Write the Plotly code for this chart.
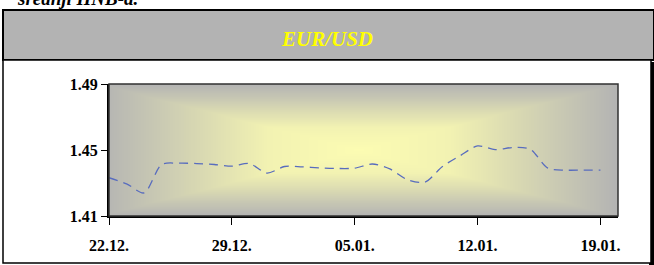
import numpy as np
import pandas as pd
import plotly.graph_objects as go

# ---- data ----
dates = pd.date_range("2009-12-22", "2010-01-19", freq="D")
eur_usd = [1.4332, 1.4295, 1.4240, 1.4412, 1.4420, 1.4418, 1.4412, 1.4402,
           1.4418, 1.4360, 1.4400, 1.4398, 1.4392, 1.4388, 1.4390, 1.4415,
           1.4385, 1.4320, 1.4305, 1.4400, 1.4465, 1.4525, 1.4502, 1.4515,
           1.4505, 1.4390, 1.4378, 1.4378, 1.4378]
tick_dates = ["2009-12-22", "2009-12-29", "2010-01-05", "2010-01-12", "2010-01-19"]
tick_text = ["22.12.", "29.12.", "05.01.", "12.01.", "19.01."]
y_ticks = [1.41, 1.45, 1.49]
y_text = ["1.41", "1.45", "1.49"]
title_text = "EUR/USD"
header_text = "srednji HNB-a."

# ---- layout geometry (pixels) ----
W, H = 654, 265
L, R, T, B = 109, 618, 84, 216
def px(x):
    return (x - L) / (R - L)
def py(y):
    return (B - y) / (B - T)

# ---- background gradient (decoration) ----
n = 201
g = np.linspace(0, 1, n)
U, V = np.meshgrid(g, g)
z = np.maximum(np.abs(U - 0.49) / 0.51, np.abs(V - 0.5) / 0.5)

fig = go.Figure()
fig.add_trace(go.Heatmap(
    x=g, y=g, z=z, zsmooth="best", showscale=False, hoverinfo="skip",
    colorscale=[[0, "rgb(252,252,178)"], [0.35, "rgb(242,242,178)"],
                [1, "rgb(179,179,179)"]],
    zmin=0, zmax=1, xaxis="x", yaxis="y"))

fig.add_trace(go.Scatter(
    x=dates, y=eur_usd, mode="lines", xaxis="x2", yaxis="y2",
    line=dict(color="rgb(88,108,190)", width=1.3, dash="9px,6px",
              shape="spline", smoothing=0.8),
    showlegend=False))

font_tick = dict(family="Liberation Serif", size=16, color="black")

fig.update_layout(
    width=W, height=H,
    margin=dict(l=L, r=W - R, t=T, b=H - B),
    paper_bgcolor="white", plot_bgcolor="rgb(179,179,179)",
    showlegend=False,
    xaxis=dict(range=[0, 1], visible=False, fixedrange=True),
    yaxis=dict(range=[0, 1], visible=False, fixedrange=True),
    xaxis2=dict(overlaying="x", anchor="y2", side="bottom", type="date",
                range=["2009-12-22", "2010-01-20"],
                tickvals=tick_dates, ticktext=tick_text,
                ticks="outside", ticklen=7, tickwidth=1, tickcolor="black",
                showline=True, linecolor="black", linewidth=2,
                showgrid=False, zeroline=False,
                tickfont=dict(font_tick, weight="bold"),
                ticklabelstandoff=7),
    yaxis2=dict(overlaying="y", anchor="x2", side="left",
                range=[1.41, 1.49], tickvals=y_ticks, ticktext=y_text,
                ticks="outside", ticklen=6, tickwidth=1, tickcolor="black",
                showline=True, linecolor="black", linewidth=2,
                showgrid=False, zeroline=False,
                tickfont=dict(font_tick, weight="bold"),
                ticklabelstandoff=0),
)

shapes = [
    # header band
    dict(type="rect", xref="paper", yref="paper", layer="below",
         x0=px(3), x1=px(654), y0=py(60), y1=py(10),
         fillcolor="rgb(179,179,179)", line=dict(color="black", width=2)),
    # shadow
    dict(type="rect", xref="paper", yref="paper", layer="below",
         x0=px(649), x1=px(655), y0=py(266), y1=py(62),
         fillcolor="black", line=dict(width=0)),
    # white chart box
    dict(type="rect", xref="paper", yref="paper", layer="below",
         x0=px(3), x1=px(651), y0=py(263), y1=py(60),
         fillcolor="white", line=dict(color="black", width=1.5)),
    # plot frame top/right
    dict(type="rect", xref="paper", yref="paper", layer="above",
         x0=0, x1=1, y0=0, y1=1,
         fillcolor="rgba(0,0,0,0)", line=dict(color="rgb(50,50,50)", width=1.5)),
]
fig.update_layout(shapes=shapes)

fig.add_annotation(text=title_text, xref="paper", yref="paper",
                   x=px(327), y=py(38.5), xanchor="center", yanchor="middle",
                   showarrow=False,
                   font=dict(family="Liberation Serif", size=21, color="#ffff00",
                             weight="bold", style="italic"))
fig.add_annotation(text=header_text, xref="paper", yref="paper",
                   x=px(15), y=py(-1), xanchor="left", yanchor="middle",
                   showarrow=False,
                   font=dict(family="Liberation Serif", size=19, color="black",
                             weight="bold", style="italic"))

fig.write_html("out.html",
               config={"displayModeBar": False},
               post_script="document.body.style.margin='0';"
                           "document.body.style.overflow='hidden';")
